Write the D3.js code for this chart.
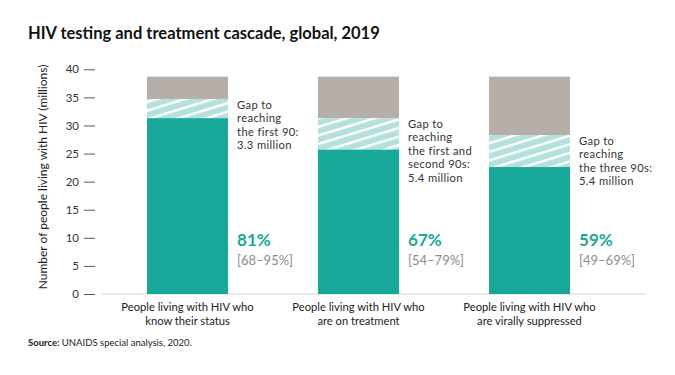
<!DOCTYPE html>
<html>
<head>
<meta charset="utf-8">
<script src="https://cdn.jsdelivr.net/npm/d3@7"></script>
<style>
  html, body { margin: 0; padding: 0; background: #fff; }
  svg { display: block; font-family: Lato, "Open Sans", sans-serif; }
</style>
</head>
<body>
<svg id="chart" width="675" height="375"></svg>
<script>
const categories = [
  ["People living with HIV who", "know their status"],
  ["People living with HIV who", "are on treatment"],
  ["People living with HIV who", "are virally suppressed"]
];
const achieved = [31.3, 25.7, 22.6];
const gap = [3.4, 5.6, 5.7];
const total = [38.7, 38.7, 38.7];
const gapLabels = [
  ["Gap to", "reaching", "the first 90:", "3.3 million"],
  ["Gap to", "reaching", "the first and", "second 90s:", "5.4 million"],
  ["Gap to", "reaching", "the three 90s:", "5.4 million"]
];
const percents = ["81%", "67%", "59%"];
const ranges = ["[68–95%]", "[54–79%]", "[49–69%]"];
const yTicks = [0, 5, 10, 15, 20, 25, 30, 35, 40];

const svg = d3.select("#chart");
const teal = "#17a899", light = "#b4e1dc", grey = "#b6aea8";

const defs = svg.append("defs");
const pat = defs.append("pattern")
  .attr("id", "hatch").attr("patternUnits", "userSpaceOnUse")
  .attr("width", 10).attr("height", 8.2)
  .attr("patternTransform", "rotate(-17)");
pat.append("rect").attr("width", 10).attr("height", 8.2).attr("fill", light);
pat.append("rect").attr("y", 0).attr("width", 10).attr("height", 2.4).attr("fill", "#fff");

const y = d3.scaleLinear().domain([0, 40]).range([294, 69.3]);
const idx = categories.map((c, i) => i);
const x = d3.scaleBand().domain(idx).range([102, 615])
  .paddingInner(0.526).paddingOuter(0.263);

// title
svg.append("text").attr("x", 28).attr("y", 39)
  .attr("font-size", 16.5).attr("font-weight", 700).attr("fill", "#111")
  .text("HIV testing and treatment cascade, global, 2019");

// y axis ticks (custom dash style)
const yAxis = d3.axisLeft(y).tickValues(yTicks).tickSize(0).tickPadding(0);
const ga = svg.append("g").attr("transform", "translate(79,0)").call(yAxis);
ga.select(".domain").remove();
ga.selectAll("text").attr("font-size", 11.5).attr("fill", "#333")
  .attr("font-family", "Lato, sans-serif");
ga.selectAll(".tick").append("line")
  .attr("x1", 5).attr("x2", 16).attr("stroke", "#555").attr("stroke-width", 1);

// y axis title
svg.append("text")
  .attr("transform", "translate(47,177) rotate(-90)")
  .attr("text-anchor", "middle").attr("font-size", 12).attr("fill", "#222")
  .text("Number of people living with HIV (millions)");

// baseline
svg.append("line").attr("x1", 102).attr("x2", 646)
  .attr("y1", y(0)).attr("y2", y(0)).attr("stroke", "#d4d4d4").attr("stroke-width", 1);

// bars
const g = svg.append("g");
g.selectAll(".tot").data(idx).join("rect")
  .attr("x", i => x(i)).attr("width", x.bandwidth())
  .attr("y", i => y(total[i])).attr("height", i => y(achieved[i] + gap[i]) - y(total[i]))
  .attr("fill", grey);
g.selectAll(".gap").data(idx).join("rect")
  .attr("x", i => x(i)).attr("width", x.bandwidth())
  .attr("y", i => y(achieved[i] + gap[i])).attr("height", i => y(achieved[i]) - y(achieved[i] + gap[i]))
  .attr("fill", "url(#hatch)");
g.selectAll(".ach").data(idx).join("rect")
  .attr("x", i => x(i)).attr("width", x.bandwidth())
  .attr("y", i => y(achieved[i])).attr("height", i => y(0) - y(achieved[i]))
  .attr("fill", teal);

// gap labels
idx.forEach(i => {
  const tx = x(i) + x.bandwidth() + 9;
  const top = y(achieved[i] + gap[i]) + 9.5;
  gapLabels[i].forEach((l, k) => {
    svg.append("text").attr("x", tx).attr("y", top + k * 13.5)
      .attr("font-size", 11.2).attr("letter-spacing", 0.35)
      .attr("fill", "#333").text(l);
  });
  svg.append("text").attr("x", tx).attr("y", 246)
    .attr("font-size", 17).attr("font-weight", 700).attr("fill", teal).text(percents[i]);
  svg.append("text").attr("x", tx).attr("y", 265)
    .attr("font-size", 13).attr("fill", "#8c8c8c").text(ranges[i]);
  categories[i].forEach((l, k) => {
    svg.append("text").attr("text-anchor", "middle")
      .attr("font-size", 11.2).attr("fill", "#222")
      .attr("x", x(i) + x.bandwidth() / 2).attr("y", 311 + k * 13.6).text(l);
  });
});

// source
const s = svg.append("text").attr("x", 28).attr("y", 346).attr("font-size", 9.5).attr("fill", "#222");
s.append("tspan").attr("font-weight", 700).text("Source:");
s.append("tspan").text(" UNAIDS special analysis, 2020.");
</script>
</body>
</html>
